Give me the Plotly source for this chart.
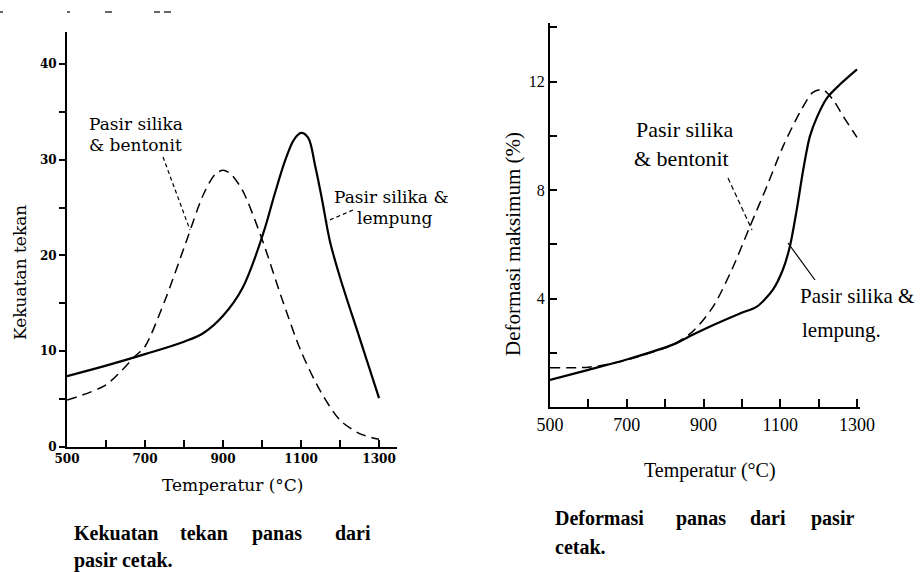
import plotly.graph_objects as go

# ---------------- data ----------------
# Left chart: Kekuatan tekan vs temperatur
left_temp_lempung = [500, 600, 700, 800, 850, 900, 950, 1003, 1033, 1060, 1082, 1100, 1118, 1136, 1154, 1174, 1200, 1250, 1300]
left_val_lempung = [7.4, 8.5, 9.7, 11.0, 11.9, 13.7, 16.6, 22.3, 26.5, 30.0, 32.1, 32.8, 32.3, 29.4, 25.8, 21.5, 17.7, 11.4, 5.1]

left_temp_bentonit = [500, 600, 675, 700, 750, 800, 850, 880, 900, 920, 950, 1000, 1050, 1100, 1150, 1200, 1250, 1300]
left_val_bentonit = [4.9, 6.5, 9.5, 10.5, 15.2, 20.8, 26.4, 28.5, 28.9, 28.5, 26.8, 21.7, 15.6, 10.0, 5.8, 2.8, 1.4, 0.8]

left_xticks = [500, 600, 700, 800, 900, 1000, 1100, 1200, 1300]
left_xticktext = ["500", "", "700", "", "900", "", "1100", "", "1300"]
left_yticks = [0, 5, 10, 15, 20, 25, 30, 35, 40]
left_yticktext = ["0", "", "10", "", "20", "", "30", "", "40"]

# Right chart: Deformasi maksimum vs temperatur
right_temp_lempung = [500, 600, 700, 820, 873, 930, 995, 1039, 1081, 1107, 1125, 1143, 1160, 1177, 1196, 1222, 1256, 1300]
right_val_lempung = [1.0, 1.37, 1.75, 2.3, 2.67, 3.05, 3.45, 3.7, 4.33, 5.07, 5.92, 7.28, 8.76, 9.97, 10.7, 11.4, 11.9, 12.45]

right_temp_bentonit = [500, 600, 690, 820, 873, 925, 975, 1021, 1065, 1107, 1151, 1185, 1211, 1237, 1265, 1300]
right_val_bentonit = [1.45, 1.47, 1.7, 2.3, 2.8, 3.7, 5.1, 6.66, 8.13, 9.6, 10.86, 11.6, 11.7, 11.34, 10.7, 9.94]

right_xticks = [500, 600, 700, 800, 900, 1000, 1100, 1200, 1300]
right_xticktext = ["500", "", "700", "", "900", "", "1100", "", "1300"]
right_yticks = [2, 4, 6, 8, 10, 12, 14]
right_yticktext = ["", "4", "", "8", "", "12", ""]

W, H = 924, 572


def PX(x):
    return x / W


def PY(y):
    return 1 - y / H


LFONT = "DejaVu Serif"
RFONT = "Liberation Serif"

fig = go.Figure()

fig.add_trace(go.Scatter(x=left_temp_lempung, y=left_val_lempung, mode="lines",
                         line=dict(color="black", width=2.2, shape="spline", smoothing=1.0),
                         xaxis="x", yaxis="y", showlegend=False))
fig.add_trace(go.Scatter(x=left_temp_bentonit, y=left_val_bentonit, mode="lines",
                         line=dict(color="black", width=1.5, dash="10px,6px", shape="spline", smoothing=0.8),
                         xaxis="x", yaxis="y", showlegend=False))
fig.add_trace(go.Scatter(x=right_temp_lempung, y=right_val_lempung, mode="lines",
                         line=dict(color="black", width=2.2, shape="spline", smoothing=0.8),
                         xaxis="x2", yaxis="y2", showlegend=False))
fig.add_trace(go.Scatter(x=right_temp_bentonit, y=right_val_bentonit, mode="lines",
                         line=dict(color="black", width=1.5, dash="10px,6px", shape="spline", smoothing=0.8),
                         xaxis="x2", yaxis="y2", showlegend=False))

axis_common = dict(showgrid=False, zeroline=False, showline=True, linecolor="black",
                   linewidth=2, tickcolor="black", tickmode="array", fixedrange=True,
                   automargin=False)

fig.update_layout(
    width=W, height=H,
    margin=dict(l=0, r=0, t=0, b=0, autoexpand=False),
    paper_bgcolor="white", plot_bgcolor="white",
    xaxis=dict(axis_common, domain=[PX(67), PX(397)], range=[500, 1346],
               tickvals=left_xticks, ticktext=left_xticktext, ticks="inside", ticklen=7,
               tickwidth=1.5, anchor="y",
               tickfont=dict(family=LFONT, size=12, color="black", weight="bold")),
    yaxis=dict(axis_common, domain=[PY(447), PY(32)], range=[0, 43.34],
               tickvals=left_yticks, ticktext=left_yticktext, ticks="outside", ticklen=6,
               tickwidth=1.5, anchor="x",
               tickfont=dict(family=LFONT, size=12, color="black", weight="bold")),
    xaxis2=dict(axis_common, domain=[PX(550), PX(860)], range=[500, 1307.8],
                tickvals=right_xticks, ticktext=right_xticktext, ticks="inside", ticklen=8,
                tickwidth=1.5, anchor="y2",
                tickfont=dict(family=RFONT, size=18, color="black")),
    yaxis2=dict(axis_common, domain=[PY(407), PY(23)], range=[0, 14.16],
                tickvals=right_yticks, ticktext=right_yticktext, ticks="inside", ticklen=7,
                tickwidth=1.5, anchor="x2",
                tickfont=dict(family=RFONT, size=16, color="black")),
)

ann = []


def text(x, y, s, font, size, xanchor="left", angle=0, bold=False):
    ann.append(dict(x=PX(x), y=PY(y), xref="paper", yref="paper", text=s, showarrow=False,
                    xanchor=xanchor, yanchor="middle", textangle=angle,
                    font=dict(family=font, size=size, color="black",
                              weight="bold" if bold else "normal")))


# left chart labels
text(87, 124, "Pasir silika", LFONT, 17)
text(87, 145, "&amp; bentonit", LFONT, 17)
text(332, 197, "Pasir silika &amp;", LFONT, 17)
text(355, 218, "lempung", LFONT, 17)
text(233, 485, "Temperatur (°C)", LFONT, 17, xanchor="center")
text(20, 273, "Kekuatan tekan", LFONT, 17, xanchor="center", angle=-90)

# right chart labels
text(634, 129, "Pasir silika", RFONT, 22)
text(632, 159, "&amp; bentonit", RFONT, 22)
text(798, 296, "Pasir silika &amp;", RFONT, 21)
text(800, 330, "lempung.", RFONT, 21)
text(710, 470, "Temperatur (°C)", RFONT, 20, xanchor="center")
text(513, 244, "Deformasi maksimum (%)", RFONT, 21, xanchor="center", angle=-90)

# captions (justified words)
text(72, 533, "Kekuatan", RFONT, 20, bold=True)
text(204, 533, "tekan", RFONT, 20, xanchor="center", bold=True)
text(277, 533, "panas", RFONT, 20, xanchor="center", bold=True)
text(373, 533, "dari", RFONT, 20, xanchor="right", bold=True)
text(72, 560, "pasir cetak.", RFONT, 20, bold=True)

text(553, 518, "Deformasi", RFONT, 20, bold=True)
text(701, 518, "panas", RFONT, 20, xanchor="center", bold=True)
text(768, 518, "dari", RFONT, 20, xanchor="center", bold=True)
text(856, 518, "pasir", RFONT, 20, xanchor="right", bold=True)
text(553, 547, "cetak.", RFONT, 20, bold=True)

fig.update_layout(annotations=ann)

# leader lines and small scan marks at the top
shapes = [
    dict(type="line", xref="paper", yref="paper", x0=PX(163), y0=PY(157), x1=PX(190), y1=PY(230),
         line=dict(color="black", width=1.2, dash="4px,3px")),
    dict(type="line", xref="paper", yref="paper", x0=PX(353), y0=PY(210), x1=PX(325), y1=PY(222),
         line=dict(color="black", width=1.2, dash="4px,3px")),
    dict(type="line", xref="paper", yref="paper", x0=PX(728), y0=PY(178), x1=PX(752), y1=PY(230),
         line=dict(color="black", width=1.2, dash="5px,3px")),
    dict(type="line", xref="paper", yref="paper", x0=PX(815), y0=PY(280), x1=PX(788), y1=PY(243),
         line=dict(color="black", width=1.2)),
]
for a, b in [(0, 3), (67, 70), (105, 112), (154, 160), (164, 171)]:
    shapes.append(dict(type="line", xref="paper", yref="paper", x0=PX(a), y0=PY(12), x1=PX(b), y1=PY(12),
                       line=dict(color="#333333", width=1.5)))
fig.update_layout(shapes=shapes)

fig.write_html("out.html", config={"displayModeBar": False},
               post_script="document.body.style.margin='0';document.body.style.overflow='hidden';")
